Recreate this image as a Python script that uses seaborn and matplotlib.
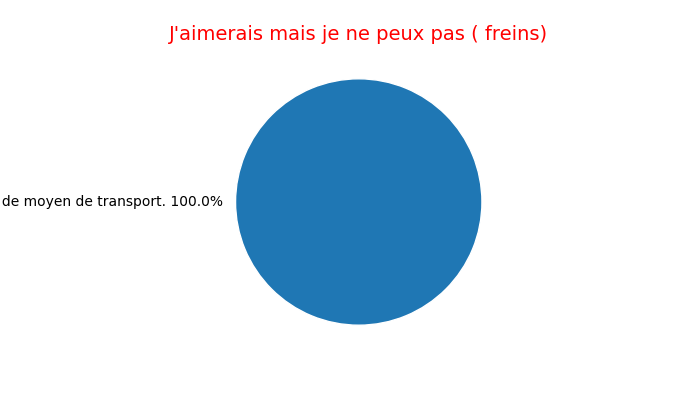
import matplotlib
matplotlib.use("Agg")
import matplotlib.pyplot as plt
import seaborn as sns

# dati
categorie = ["Pas de moyen de transport."]
valori = [1]
titolo = "J'aimerais mais je ne peux pas ( freins)"

sns.set_style("white")
plt.rcParams["font.family"] = ["DejaVu Sans"]
plt.rcParams["text.color"] = "black"

totale = sum(valori)
etichette = [f"{c} {v / totale * 100:.1f}%" for c, v in zip(categorie, valori)]
colori = sns.color_palette("tab10", len(valori))

fig, ax = plt.subplots(figsize=(7, 4), dpi=100)
ax.pie(valori, labels=etichette, colors=colori, textprops={"color": "black"})
ax.set_title(titolo, color="red", fontsize=14)

# come nel riferimento, l'etichetta esce dal bordo sinistro
plt.savefig("out.png", dpi=100)
